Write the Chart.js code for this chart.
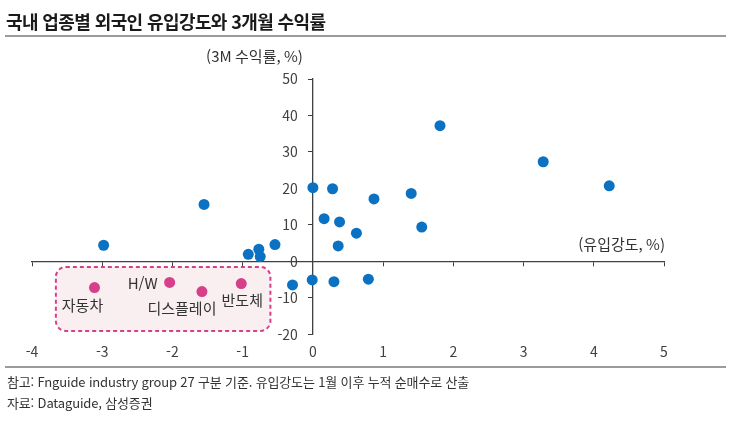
<!DOCTYPE html>
<html lang="ko">
<head>
<meta charset="utf-8">
<title>국내 업종별 외국인 유입강도와 3개월 수익률</title>
<script src="https://cdn.jsdelivr.net/npm/chart.js@4.4.1/dist/chart.umd.min.js"></script>
<style>
  html, body { margin: 0; padding: 0; background: #fff; }
  body {
    width: 745px; height: 421px; position: relative; overflow: hidden;
    font-family: "Noto Sans CJK KR", "Noto Sans", sans-serif; color: #222;
  }
  #chart-box { position: absolute; left: 0; top: 0; width: 745px; height: 421px; }
  #title {
    position: absolute; left: 6px; top: 8px; line-height: 26px;
    font-size: 18px; font-weight: bold; letter-spacing: -0.6px; color: #1a1a1a;
  }
  .rule { position: absolute; left: 5px; width: 721px; height: 0; border-top: 2px solid #9b9b9b; }
  .note {
    position: absolute; left: 7px; line-height: 18px;
    font-size: 13px; letter-spacing: -0.15px; color: #333;
  }
</style>
</head>
<body>
<div id="chart-box"><canvas id="scatterChart"></canvas></div>
<div id="title">국내 업종별 외국인 유입강도와 3개월 수익률</div>
<div class="rule" style="top:35px"></div>
<div class="rule" style="top:366px"></div>
<div class="note" style="top:373px">참고: Fnguide industry group 27 구분 기준. 유입강도는 1월 이후 누적 순매수로 산출</div>
<div class="note" style="top:394px">자료: Dataguide, 삼성증권</div>

<script>
// Data
const sectorX = [-2.98, -1.55, -0.92, -0.77, -0.75, -0.54, -0.29, -0.01, 0.30, 0.00, 0.28,
                 0.16, 0.38, 0.36, 0.62, 0.87, 1.40, 1.55, 1.81, 3.28, 4.22, 0.79];
const sectorY = [4.4, 15.6, 1.9, 3.3, 1.3, 4.6, -6.5, -5.1, -5.6, 20.2, 19.9,
                 11.7, 10.8, 4.2, 7.7, 17.1, 18.6, 9.4, 37.2, 27.3, 20.7, -4.9];

const highlightNames = ['자동차', 'H/W', '디스플레이', '반도체'];
const highlightX = [-3.11, -2.04, -1.58, -1.02];
const highlightY = [-7.2, -5.8, -8.3, -6.1];

const xMin = -4, xMax = 5, xStep = 1;
const yMin = -20, yMax = 50, yStep = 10;
const xTitle = '(유입강도, %)';
const yTitle = '(3M 수익률, %)';

// Highlight box extent (in axis units)
const boxX = [-3.66, -0.605];
const boxY = [-1.55, -19.1];

// Styles
const FONT = '"Noto Sans CJK KR", "Noto Sans", sans-serif';
const AXIS_COLOR = '#404040';
const TEXT_COLOR = '#333333';
const BLUE = '#0b72c3';
const PINK = '#d6408a';
const labelOffsets = [
    { dx: -12, dy: 18, align: 'center' },
    { dx: -12, dy: 1, align: 'right' },
    { dx: -20, dy: 17, align: 'center' },
    { dx: 1, dy: 17, align: 'center' }
];

function toPoints(xs, ys) {
    return xs.map((x, i) => ({ x: x, y: ys[i] }));
}

// Highlight box, point labels, y tick labels and axis titles
const annotatePlugin = {
    id: 'annotate',
    beforeDatasetsDraw(chart) {
        const { ctx, scales: { x, y } } = chart;
        const left = x.getPixelForValue(boxX[0]);
        const right = x.getPixelForValue(boxX[1]);
        const top = y.getPixelForValue(boxY[0]);
        const bottom = y.getPixelForValue(boxY[1]);
        ctx.save();
        ctx.beginPath();
        ctx.roundRect(left, top, right - left, bottom - top, 10);
        ctx.fillStyle = '#f9eef0';
        ctx.fill();
        ctx.setLineDash([4, 3]);
        ctx.lineWidth = 2;
        ctx.strokeStyle = PINK;
        ctx.stroke();
        ctx.restore();
    },
    afterDatasetsDraw(chart) {
        const { ctx, scales: { x, y } } = chart;
        const axisX = x.getPixelForValue(0);
        ctx.save();
        ctx.textBaseline = 'middle';

        // y tick labels sit left of the crossing axis
        ctx.fillStyle = AXIS_COLOR;
        ctx.font = '14px ' + FONT;
        ctx.textAlign = 'right';
        y.ticks.forEach(t => {
            ctx.fillText(t.label, axisX - 15, y.getPixelForValue(t.value));
        });

        ctx.fillStyle = TEXT_COLOR;
        ctx.font = '15px ' + FONT;
        highlightNames.forEach((name, i) => {
            const off = labelOffsets[i];
            ctx.textAlign = off.align;
            ctx.fillText(name, x.getPixelForValue(highlightX[i]) + off.dx,
                               y.getPixelForValue(highlightY[i]) + off.dy);
        });

        // axis titles
        ctx.textAlign = 'right';
        ctx.fillText(yTitle, axisX - 10, y.getPixelForValue(yMax) - 23);
        ctx.fillText(xTitle, x.getPixelForValue(xMax) + 1, y.getPixelForValue(0) - 17);
        ctx.restore();
    }
};

new Chart(document.getElementById('scatterChart'), {
    type: 'scatter',
    data: {
        datasets: [
            {
                label: '업종',
                data: toPoints(sectorX, sectorY),
                backgroundColor: BLUE,
                borderWidth: 0,
                pointRadius: 5.5,
                xAxisID: 'x',
                yAxisID: 'y'
            },
            {
                label: '강조 업종',
                data: toPoints(highlightX, highlightY),
                backgroundColor: PINK,
                borderWidth: 0,
                pointRadius: 5.5,
                xAxisID: 'x',
                yAxisID: 'y'
            }
        ]
    },
    options: {
        responsive: true,
        maintainAspectRatio: false,
        animation: false,
        events: [],
        layout: { padding: { left: 32, right: 81, top: 79, bottom: 52 } },
        plugins: {
            legend: { display: false },
            tooltip: { enabled: false }
        },
        scales: {
            x: {
                type: 'linear',
                position: 'bottom',
                min: xMin,
                max: xMax,
                ticks: { stepSize: xStep, color: AXIS_COLOR, padding: 9, font: { family: FONT, size: 14 } },
                grid: { display: false, drawTicks: false },
                border: { display: false }
            },
            x2: {
                type: 'linear',
                axis: 'x',
                position: { y: 0 },
                min: xMin,
                max: xMax,
                ticks: { stepSize: xStep, color: 'rgba(0,0,0,0)', font: { family: FONT, size: 14 } },
                grid: { drawOnChartArea: false, tickLength: 4, color: AXIS_COLOR, lineWidth: 1 },
                border: { display: true, color: AXIS_COLOR, width: 1.3 }
            },
            y: {
                type: 'linear',
                position: { x: 0 },
                min: yMin,
                max: yMax,
                ticks: { stepSize: yStep, color: 'rgba(0,0,0,0)', font: { family: FONT, size: 14 } },
                grid: { drawOnChartArea: false, tickLength: 4, color: AXIS_COLOR, lineWidth: 1 },
                border: { display: true, color: AXIS_COLOR, width: 1.3 }
            }
        }
    },
    plugins: [annotatePlugin]
});
</script>
</body>
</html>
